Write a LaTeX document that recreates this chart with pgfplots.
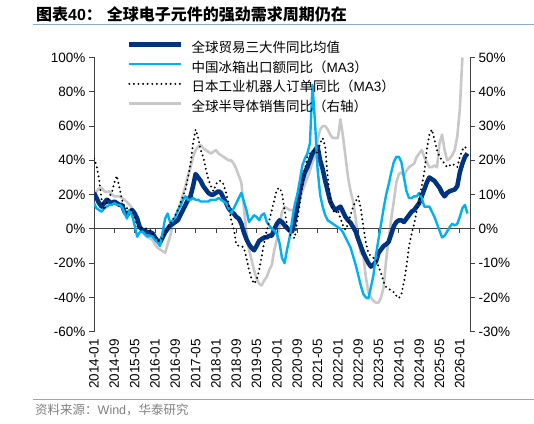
\documentclass[border=0pt]{standalone}
\usepackage{pgfplots}
\pgfplotsset{compat=1.18}
\usepackage{fontspec}
\setmainfont{Liberation Sans}
\newfontfamily\cjk{Noto Sans CJK SC}
\definecolor{navy}{RGB}{0,51,128}
\definecolor{skyb}{RGB}{0,176,240}
\definecolor{lgrey}{RGB}{200,200,200}
\definecolor{rulec}{RGB}{143,170,200}
\begin{document}
\begin{tikzpicture}
\useasboundingbox (0,0) rectangle (534bp,424bp);
\node[anchor=west, inner sep=0pt] at (36bp,410bp) {\fontsize{16bp}{18bp}\selectfont\bfseries{\cjk 图表}40{\cjk ：}\hspace{5bp}{\cjk 全球电子元件的强劲需求周期仍在}};
\draw[rulec, line width=0.8bp] (33bp,399.5bp) -- (534bp,399.5bp);
\draw[rulec, line width=0.8bp] (33bp,25bp) -- (534bp,25bp);
\node[anchor=west, inner sep=0pt, text=black!50] at (35bp,14.5bp) {\fontsize{12.5bp}{14bp}\selectfont{\cjk 资料来源：}Wind{\cjk ，华泰研究}};

% right axis (semiconductor sales)
\begin{axis}[
  at={(94bp,92.3bp)}, anchor=south west,
  width=376bp, height=274.2bp, scale only axis,
  xmin=0, xmax=148, ymin=-30, ymax=50,
  axis x line=none, axis y line*=right,
  y axis line style={black!75, line width=0.8bp},
  ytick={-30,-20,...,50},
  ytick align=outside, major tick length=5bp,
  ytick style={black!75, line width=0.8bp},
  yticklabel={\pgfmathprintnumber{\tick}\%},
  /pgf/number format/assume math mode=true,
  tick label style={font=\fontsize{13.5bp}{15bp}\selectfont},
]
\addplot[lgrey, line width=2.6bp, line join=round] coordinates {
(0,8.5)(1,11)(2,11.8)(3,12)(4,11)(5,10.7)(6,11)(7,10)(8,9.5)(9,9.5)(10,9.5)(11,9)(12,8.5)(13,7.8)(14,7)(15,6)(16,5)(17,2.5)(18,1)(19,-0.5)(20,-1.8)(21,-2.3)(22,-2.8)(23,-3.2)(24,-4.5)(25,-5.5)(26,-6)(27,-6.5)(28,-7)(29,-4.5)(30,-2)(31,1)(32,3)(33,5)(34,7.5)(35,10)(36,12.5)(37,15.5)(38,18)(39,21)(40,23)(41,24)(42,24.5)(43,23.5)(44,23)(45,22.5)(46,22)(47,22.5)(48,23)(49,22)(50,21.5)(51,21)(52,20.5)(53,20)(54,20)(55,19)(56,17.5)(57,15.5)(58,13.5)(59,6)(60,-1)(61,-6)(62,-9)(63,-12)(64,-14.5)(65,-16)(66,-16.5)(67,-15)(68,-14)(69,-12)(70,-10.5)(71,-6)(72,-3)(73,0.5)(74,5)(75,6.5)(76,6)(77,5.5)(78,5.5)(79,5.5)(80,6)(81,8.5)(82,11)(83,13)(84,15)(85,17)(86,19.5)(87,21)(88,26)(89,29)(90,30)(91,30)(92,29)(93,27.5)(94,26.5)(95,26.5)(96,26.5)(97,32)(98,27)(99,21)(100,15)(101,11)(102,8)(103,3)(104,-3)(105,-7)(106,-8)(107,-14)(108,-18.5)(109,-20)(110,-21)(111,-21.5)(112,-21.5)(113,-20)(114,-17)(115,-9)(116,-3)(117,3)(118,8)(119,13.5)(120,16)(121,16.5)(122,15.5)(123,17)(124,18)(125,18.5)(126,19)(127,21)(128,22)(129,23)(130,21)(131,19.5)(132,18)(133,18)(134,18.5)(135,18)(136,25)(137,27.5)(138,23)(139,20)(140,20.5)(141,21.5)(142,23)(143,27)(144,35)(145,50)
};
\end{axis}

% left axis
\begin{axis}[
  at={(94bp,92.3bp)}, anchor=south west,
  width=376bp, height=274.2bp, scale only axis,
  xmin=0, xmax=148, ymin=-60, ymax=100,
  axis y line*=left, axis x line*=bottom,
  x axis line style={draw=none},
  y axis line style={black!75, line width=0.8bp},
  xtick={0,8,...,144},
  xticklabels={2014-01,2014-09,2015-05,2016-01,2016-09,2017-05,2018-01,2018-09,2019-05,2020-01,2020-09,2021-05,2022-01,2022-09,2023-05,2024-01,2024-09,2025-05,2026-01},
  xtick style={draw=none},
  xticklabel style={rotate=90, anchor=east},
  xticklabel shift=4bp,
  ytick={-60,-40,...,100},
  ytick align=outside, major tick length=5bp,
  ytick style={black!75, line width=0.8bp},
  yticklabel={\pgfmathprintnumber{\tick}\%},
  /pgf/number format/assume math mode=true,
  tick label style={font=\fontsize{13.5bp}{15bp}\selectfont},
  legend style={at={(0.0878,1.0565)}, anchor=north west, draw=none, fill=none,
    inner sep=0pt, outer sep=0pt, font=\fontsize{13.5bp}{15bp}\selectfont,
    row sep=5.7bp, nodes={inner sep=0pt, text height=10.5bp, text depth=3.5bp},
    /tikz/every odd column/.style={column sep=8bp}},
  legend cell align=left,
  legend image code/.code={\draw[#1] (0bp,4.5bp) -- (52bp,4.5bp);},
]
\draw[black!75, line width=0.8bp] (axis cs:0,0) -- (axis cs:148,0);
\draw[black!75, line width=0.8bp]
  (axis cs:8,0) -- (axis cs:8,-2.3) (axis cs:16,0) -- (axis cs:16,-2.3)
  (axis cs:24,0) -- (axis cs:24,-2.3) (axis cs:32,0) -- (axis cs:32,-2.3)
  (axis cs:40,0) -- (axis cs:40,-2.3) (axis cs:48,0) -- (axis cs:48,-2.3)
  (axis cs:56,0) -- (axis cs:56,-2.3) (axis cs:64,0) -- (axis cs:64,-2.3)
  (axis cs:72,0) -- (axis cs:72,-2.3) (axis cs:80,0) -- (axis cs:80,-2.3)
  (axis cs:88,0) -- (axis cs:88,-2.3) (axis cs:96,0) -- (axis cs:96,-2.3)
  (axis cs:104,0) -- (axis cs:104,-2.3) (axis cs:112,0) -- (axis cs:112,-2.3)
  (axis cs:120,0) -- (axis cs:120,-2.3) (axis cs:128,0) -- (axis cs:128,-2.3)
  (axis cs:136,0) -- (axis cs:136,-2.3) (axis cs:144,0) -- (axis cs:144,-2.3);
\addplot[navy, line width=4.5bp, line join=round] coordinates {
(0,21)(1,18)(2,15)(3,13)(4,15)(5,17)(6,16)(7,15)(8,16)(9,15)(10,14)(11,14)(12,10)(13,8)(14,10)(15,11)(16,9)(17,6)(18,1)(19,-0.5)(20,-1)(21,-2)(22,-2)(23,-2.5)(24,-5)(25,-7)(26,-8)(27,-5)(28,-2)(29,0)(30,2)(31,3)(32,4)(33,5)(34,8)(35,11)(36,14)(37,17)(38,19)(39,25)(40,32)(41,30)(42,28)(43,25)(44,23)(45,21)(46,20)(47,20)(48,21)(49,22)(50,21)(51,18)(52,15)(53,12)(54,10)(55,9)(56,7)(57,6)(58,3)(59,-2)(60,-6)(61,-9)(62,-11)(63,-12.5)(64,-10)(65,-7)(66,-6)(67,-5)(68,-5)(69,-4)(70,-4)(71,0)(72,3)(73,5)(74,4)(75,2)(76,0.5)(77,-1)(78,-1.5)(79,5)(80,13)(81,22)(82,28)(83,33)(84,36)(85,40)(86,44)(87,46)(88,48)(89,40)(90,35)(91,28)(92,22)(93,16)(94,13)(95,11)(96,12)(97,13)(98,10)(99,7)(100,5)(101,3.5)(102,1)(103,-1.5)(104,-6)(105,-10)(106,-14)(107,-17)(108,-20)(109,-22)(110,-21)(111,-19)(112,-14)(113,-12)(114,-10)(115,-9)(116,-7.5)(117,-3)(118,1.5)(119,4)(120,5)(121,5)(122,4)(123,6)(124,8)(125,10)(126,11)(127,13)(128,15)(129,19)(130,23)(131,27)(132,30)(133,29)(134,28)(135,26)(136,24)(137,21)(138,19)(139,21)(140,22)(141,22.5)(142,23)(143,25)(144,33)(145,38)(146,42)(147,44)
};
\addlegendentry{\cjk 全球贸易三大件同比均值}
\addplot[skyb, line width=2.4bp, line join=round] coordinates {
(0,15)(1,12)(2,11)(3,10)(4,12)(5,13)(6,14)(7,14)(8,15)(9,14)(10,14)(11,13)(12,9)(13,6)(14,11)(15,8)(16,2)(17,-4.5)(18,-2)(19,-1.5)(20,-3)(21,-4.5)(22,-4)(23,-4.5)(24,-6)(25,-8)(26,-10)(27,-2)(28,6)(29,9)(30,3.5)(31,5)(32,7)(33,11)(34,13)(35,17)(36,19)(37,17)(38,17)(39,18)(40,17)(41,17)(42,16)(43,16)(44,16)(45,16)(46,17)(47,17)(48,17)(49,18)(50,17)(51,16)(52,15)(53,12)(54,9)(55,12)(56,15)(57,18)(58,21)(59,16)(60,11)(61,4)(62,6)(63,8)(64,7)(65,5)(66,8)(67,9)(68,4)(69,2)(70,0)(71,-1)(72,-3)(73,-8)(74,-17)(75,-20)(76,-12)(77,-5)(78,5)(79,14)(80,20)(81,28)(82,37)(83,41)(84,44)(85,50)(86,84)(87,62)(88,35)(89,20)(90,13)(91,8)(92,5)(93,4)(94,3)(95,2)(96,1)(97,0)(98,-2)(99,-5)(100,-8)(101,-11)(102,-16)(103,-21)(104,-27)(105,-33)(106,-38)(107,-40)(108,-40.5)(109,-34)(110,-27)(111,-15)(112,-6)(113,3)(114,12)(115,20)(116,26)(117,33)(118,39)(119,42)(120,42)(121,39)(122,30)(123,22)(124,18)(125,18)(126,19)(127,19)(128,21)(129,18)(130,13)(131,13)(132,13)(133,10)(134,7)(135,3)(136,-1)(137,-5)(138,-4)(139,-1.5)(140,1)(141,3)(142,2)(143,3)(144,7)(145,12)(146,14)(147,9)
};
\addlegendentry{{\cjk 中国冰箱出口额同比（}MA3{\cjk ）}}
\addplot[black, line width=2.2bp, line cap=round, dash pattern=on 0bp off 4.6bp] coordinates {
(0,41)(1,37)(2,29)(3,17)(4,11)(5,15)(6,19)(7,21)(8,27)(9,31)(10,24)(11,17)(12,13)(13,12)(14,11)(15,11)(16,7)(17,1.5)(18,0.5)(19,0.5)(20,0.5)(21,0)(22,-0.5)(23,-2.5)(24,-4.5)(25,-7)(26,-7)(27,-5)(28,-2.5)(29,1)(30,3)(31,5)(32,8)(33,11)(34,15)(35,19)(36,23)(37,30)(38,38)(39,50)(40,58)(41,53)(42,46)(43,42)(44,35)(45,29)(46,25)(47,22)(48,26)(49,28)(50,28)(51,26)(52,21)(53,14)(54,5)(55,0)(56,-9)(57,-10)(58,-10)(59,-11)(60,-17)(61,-24)(62,-29)(63,-32)(64,-30)(65,-24)(66,-16)(67,-8)(68,-1)(69,5)(70,11)(71,17)(72,23)(73,24)(74,21)(75,11)(76,2)(77,-3)(78,-4.5)(79,-5.5)(80,5)(81,15)(82,25)(83,35)(84,42)(85,44)(86,45)(87,46)(88,44)(89,50)(90,53)(91,48)(92,30)(93,17)(94,11)(95,9)(96,11)(97,6)(98,2)(99,-0.5)(100,3)(101,8)(102,13)(103,16)(104,19)(105,12)(106,1.5)(107,-8)(108,-14)(109,-16)(110,-17)(111,-18)(112,-22)(113,-26)(114,-31)(115,-34)(116,-35)(117,-36)(118,-37)(119,-39)(120,-40.5)(121,-38)(122,-31)(123,-22)(124,-10)(125,-3)(126,3)(127,10)(128,17)(129,25)(130,33)(131,46)(132,55)(133,58)(134,52)(135,46)(136,42)(137,40)(138,38)(139,36)(140,37)(141,38)(142,37)(143,36)(144,42)(145,46)(146,48)(147,46)
};
\addlegendentry{{\cjk 日本工业机器人订单同比（}MA3{\cjk ）}}
\addlegendimage{lgrey, line width=2.6bp}
\addlegendentry{\cjk 全球半导体销售同比（右轴）}
\end{axis}
\end{tikzpicture}
\end{document}
